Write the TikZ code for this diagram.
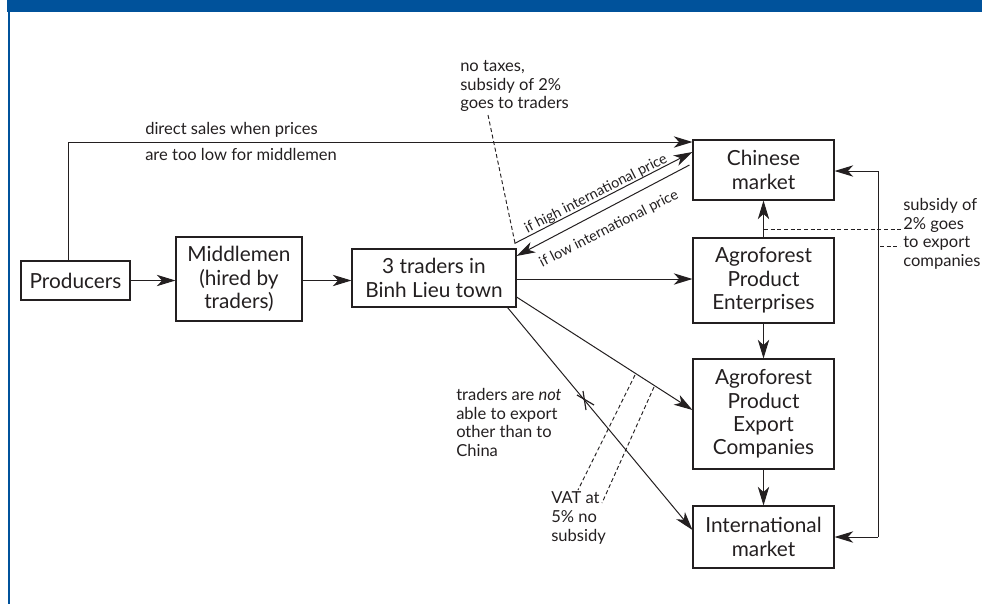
\documentclass[tikz,border=0pt]{standalone}
\usepackage{fontspec}
\setmainfont{Lato}
\usetikzlibrary{arrows.meta,calc}
\definecolor{hdrblue}{HTML}{00529B}
\definecolor{ink}{HTML}{231F20}
\begin{document}
\begin{tikzpicture}[x=0.75pt,y=-0.75pt,
  every node/.style={text=ink},
  box/.style={draw=ink,line width=0.8pt,inner sep=0pt,align=center,
    font=\fontsize{15.6}{17.6}\selectfont},
  note/.style={inner sep=0pt,align=left,font=\fontsize{12.4}{13.9}\selectfont},
  slopenote/.style={inner sep=0pt,font=\fontsize{10.8}{12}\selectfont},
  flow/.style={draw=ink,line width=0.75pt,-{Stealth[length=14pt,width=8.5pt,inset=4pt]}},
  plain/.style={draw=ink,line width=0.75pt},
  dashline/.style={draw=ink,line width=0.7pt,dashed,dash pattern=on 3pt off 2pt}]
\useasboundingbox (0,0) rectangle (982,604);
% frame
\fill[hdrblue] (7,0) rectangle (982,12);
\fill[hdrblue] (7.5,12) rectangle (10,604);

% boxes
\node[box,minimum width=81.75pt,minimum height=29.25pt] (prod) at (75.5,280.5) {Producers};
\node[box,minimum width=94.5pt,minimum height=63pt] (mid) at (239,279) {Middlemen\\(hired by\\traders)};
\node[box,minimum width=123pt,minimum height=43.5pt] (trad) at (434,278) {3 traders in\\Binh Lieu town};
\node[box,minimum width=105.75pt,minimum height=45pt] (chin) at (763.5,170) {Chinese\\market};
\node[box,minimum width=105.75pt,minimum height=63.75pt] (ent) at (763.5,280.5) {Agroforest\\Product\\Enterprises};
\node[box,minimum width=105.75pt,minimum height=82.5pt] (exp) at (763.5,414) {Agroforest\\Product\\Export\\Companies};
\node[box,minimum width=105.75pt,minimum height=46.5pt] (intl) at (763.5,537) {International\\market};

% main flow
\draw[flow] (prod.east) -- (mid.west |- prod.east);
\draw[flow] (mid.east |- prod.east) -- (trad.west |- prod.east);
\draw[flow] (prod.north -| 68,0) -- (68,142) -- (chin.west |- 0,142);
\draw[flow] (trad.east |- 0,279) -- (ent.west |- 0,279);
\draw[flow] ($(trad.north east)+(-2,-5)$) -- (chin.west |- 0,152);
\draw[flow] ($(chin.west)+(-3,-5)$) -- (trad.east |- 0,256);
\draw[flow] (trad.east |- 0,297) -- (exp.west |- 0,410);
\draw[flow] ($(trad.south east)+(-9,0)$) -- (intl.west |- 0,530);
\draw[flow] (ent.north) -- (chin.south);
\draw[flow] (ent.south) -- (exp.north);
\draw[flow] (exp.south) -- (intl.north);
\coordinate (rtop) at (878,171);
\coordinate (rbot) at (878,537);
\draw[flow] (rtop) -- (chin.east |- rtop);
\draw[flow] (rbot) -- (intl.east |- rbot);
\draw[plain] (rtop) -- (rbot);

% cross mark
\draw[plain,line width=0.9pt] (583,391) -- (586,410);
\draw[plain,line width=0.9pt] (577,395) -- (594,405);

% dashed leaders
\coordinate (vatA1) at (635,375); \coordinate (vatA2) at (578,490);
\coordinate (vatB1) at (654,387); \coordinate (vatB2) at (602,503);
\draw[dashline] (vatA1) -- (vatA2);
\draw[dashline] (vatB1) -- (vatB2);
\coordinate (tx1) at (488,115); \coordinate (tx2) at (515,243);
\draw[dashline] (tx1) -- (tx2);
\draw[dashline] (764,229) -- (902,229);
\draw[dashline] (880,246) -- (900,246);

% labels
\node[note,anchor=west] (ds1) at (145,130) {direct sales when prices};
\node[note,anchor=west] (ds2) at (145,154) {are too low for middlemen};
\node[note,anchor=west] (notax) at (460,86) {no taxes,\\subsidy of 2\%\\goes to traders};
\node[note,anchor=west] (sub) at (903,234) {subsidy of\\2\% goes\\to export\\companies};
\node[note,anchor=west] (notex) at (456,422.5) {traders are \textit{not}\\able to export\\other than to\\China};
\node[note,anchor=west] (vat) at (551,518) {VAT at\\5\% no\\subsidy};
\node[slopenote,rotate=27] (hi) at (596,194) {if high international price};
\node[slopenote,rotate=27] (lo) at (609,229) {if low international price};
\end{tikzpicture}
\end{document}
